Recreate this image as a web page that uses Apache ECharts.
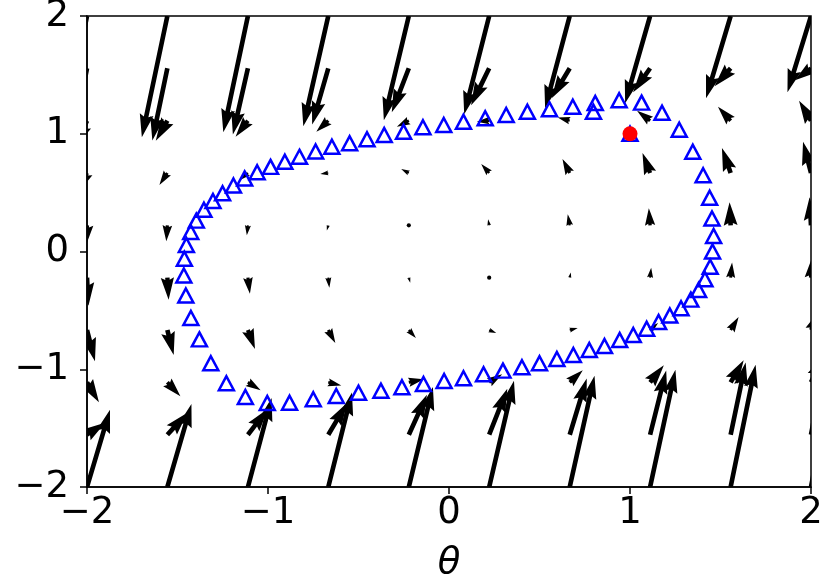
<!DOCTYPE html>
<html><head><meta charset="utf-8">
<script src="https://cdn.jsdelivr.net/npm/echarts@6/dist/echarts.min.js"></script>
<style>html,body{margin:0;padding:0;background:#fff}#c{width:822px;height:586px}</style>
</head><body><div id="c"></div>
<script>
// quiver grid (tail positions)
const thetaGrid = [-2, -1.556, -1.111, -0.667, -0.222, 0.222, 0.667, 1.111, 1.556, 2];
const wGrid = [2, 1.556, 1.111, 0.667, 0.222, -0.222, -0.667, -1.111, -1.556, -2];
// arrow displacement in data units (dtheta), one array per row of wGrid
const dThetaRows = [
  [-0.138,-0.141,-0.136,-0.138,-0.138,-0.138,-0.136,-0.138,-0.136,-0.130],
  [-0.083,-0.083,-0.083,-0.089,-0.094,-0.100,-0.100,-0.094,-0.089,-0.089],
  [-0.066,-0.064,-0.068,-0.066,-0.066,-0.068,-0.066,-0.072,-0.070,-0.066],
  [-0.044,-0.044,-0.044,-0.044,-0.042,-0.044,-0.040,-0.042,-0.048,-0.044],
  [-0.008,-0.006,-0.006,-0.008,0,-0.006,-0.011,-0.007,-0.006,-0.008],
  [0.008,0.007,0.011,0.006,0.008,0,0.006,0.006,0.008,0.008],
  [0.044,0.035,0.039,0.039,0.039,0.039,0.044,0.044,0.044,0.040],
  [0.066,0.072,0.070,0.072,0.083,0.072,0.072,0.076,0.072,0.072],
  [0.100,0.111,0.111,0.105,0.100,0.100,0.094,0.089,0.083,0.083],
  [0.127,0.133,0.131,0.131,0.133,0.137,0.137,0.140,0.138,0.138]
];
// arrow displacement in data units (dw)
const dWRows = [
  [-1.081,-1.030,-0.987,-0.936,-0.885,-0.834,-0.783,-0.740,-0.698,-0.647],
  [-0.664,-0.613,-0.562,-0.477,-0.374,-0.315,-0.255,-0.204,-0.153,-0.102],
  [-0.221,-0.170,-0.136,-0.094,-0.051,-0.009,0.026,0.085,0.119,0.170],
  [-0.153,-0.102,-0.060,-0.009,0.034,0.077,0.119,0.170,0.213,0.264],
  [-0.179,-0.136,-0.085,-0.043,0.000,0.051,0.094,0.145,0.196,0.238],
  [-0.238,-0.187,-0.136,-0.085,-0.043,0.000,0.043,0.085,0.128,0.179],
  [-0.264,-0.213,-0.162,-0.111,-0.068,-0.026,0.017,0.060,0.111,0.153],
  [-0.170,-0.119,-0.068,-0.026,0.026,0.068,0.102,0.145,0.187,0.230],
  [0.102,0.187,0.221,0.272,0.340,0.391,0.477,0.545,0.613,0.664],
  [0.655,0.704,0.755,0.803,0.849,0.902,0.945,0.996,1.038,1.089]
];
// trajectory markers
const trajTheta = [1.0,0.798,0.684,0.555,0.433,0.316,0.200,0.080,-0.029,-0.144,-0.251,-0.358,-0.453,-0.549,-0.647,-0.737,-0.826,-0.907,-0.986,-1.060,-1.129,-1.191,-1.251,-1.304,-1.354,-1.396,-1.427,-1.451,-1.462,-1.465,-1.454,-1.426,-1.379,-1.316,-1.230,-1.125,-1.004,-0.881,-0.750,-0.623,-0.500,-0.376,-0.260,-0.141,-0.027,0.080,0.191,0.298,0.403,0.500,0.596,0.687,0.775,0.859,0.943,1.018,1.092,1.158,1.220,1.282,1.336,1.379,1.414,1.443,1.456,1.462,1.453,1.440,1.404,1.347,1.272,1.177,1.064,0.940,0.808];
const trajW = [1.0,1.187,1.230,1.208,1.187,1.159,1.131,1.102,1.074,1.055,1.017,0.989,0.953,0.919,0.890,0.849,0.804,0.762,0.719,0.673,0.620,0.561,0.495,0.429,0.354,0.262,0.166,0.055,-0.062,-0.204,-0.374,-0.565,-0.746,-0.949,-1.119,-1.236,-1.287,-1.284,-1.255,-1.227,-1.199,-1.182,-1.153,-1.125,-1.100,-1.077,-1.043,-1.012,-0.983,-0.949,-0.913,-0.879,-0.837,-0.803,-0.752,-0.709,-0.656,-0.599,-0.544,-0.482,-0.409,-0.327,-0.236,-0.129,0.000,0.132,0.280,0.457,0.648,0.847,1.034,1.179,1.264,1.285,1.261];
const startPoint = [1, 1];
const xTickLabels = ['\u22122', '\u22121', '0', '1', '2'];
const yTickLabels = ['\u22122', '\u22121', '0', '1', '2'];

const quiverData = [];
wGrid.forEach((w, j) => thetaGrid.forEach((t, i) => {
  quiverData.push([t, w, dThetaRows[j][i], dWRows[j][i]]);
}));

const chart = echarts.init(document.getElementById('c'), null, {renderer: 'canvas'});
const GRID = {left: 87, right: 11, top: 16, bottom: 99};
const FONT = 'DejaVu Sans';

function renderArrow(params, api) {
  const t = api.value(0), w = api.value(1), dt = api.value(2), dw = api.value(3);
  const p0 = api.coord([t, w]);
  const p1 = api.coord([t + dt, w + dw]);
  const W = 0.0064 * params.coordSys.width;
  const dx = p1[0] - p0[0], dy = p1[1] - p0[1];
  const L = Math.hypot(dx, dy);
  const Lw = L / W;
  if (Lw < 1) {
    return {type: 'circle', shape: {cx: p0[0], cy: p0[1], r: W * 0.45}, style: {fill: '#000'}};
  }
  let xs, ys = [0.5, 0.5, 1.5, 0, -1.5, -0.5, -0.5];
  if (Lw < 5) {
    const s = Lw / 5;
    xs = [0, 0.5, 0, 5, 0, 0.5, 0].map(v => v * s);
    ys = ys.map(v => v * s);
  } else {
    xs = [0, Lw - 4.5, Lw - 5, Lw, Lw - 5, Lw - 4.5, 0];
  }
  const ux = dx / L, uy = dy / L, nx = -uy, ny = ux;
  const pts = xs.map((x, k) => [p0[0] + W * (x * ux + ys[k] * nx), p0[1] + W * (x * uy + ys[k] * ny)]);
  return {type: 'polygon', shape: {points: pts}, style: {fill: '#000'}};
}

const axisCommon = {
  type: 'value', min: -2, max: 2, interval: 1,
  axisLine: {show: true, onZero: false, lineStyle: {color: '#000', width: 1.5}},
  axisTick: {show: true, length: 7, lineStyle: {color: '#000', width: 1.5}},
  splitLine: {show: false},
  nameLocation: 'middle',
  nameTextStyle: {fontSize: 37, fontStyle: 'italic', fontFamily: FONT, color: '#000'}
};

chart.setOption({
  animation: false,
  backgroundColor: '#fff',
  grid: Object.assign({show: true, borderColor: '#000', borderWidth: 1.5, containLabel: false, outerBoundsMode: 'none'}, GRID),
  xAxis: Object.assign({}, axisCommon, {
    name: '\u03b8', nameGap: 58,
    axisLabel: {fontSize: 37, fontFamily: FONT, color: '#000', margin: 8,
      formatter: v => xTickLabels[Math.round(v) + 2]}
  }),
  yAxis: Object.assign({}, axisCommon, {
    name: 'w', nameGap: 62, nameRotate: 90,
    axisLabel: {fontSize: 37, fontFamily: FONT, color: '#000', margin: 18,
      formatter: v => yTickLabels[Math.round(v) + 2]}
  }),
  series: [
    {type: 'custom', renderItem: renderArrow, data: quiverData, clip: true, z: 1, silent: true,
     encode: {x: 0, y: 1}},
    {type: 'scatter', data: trajTheta.map((t, k) => [t, trajW[k]]), symbol: 'triangle', symbolSize: [15, 14],
     itemStyle: {color: 'rgba(0,0,0,0)', borderColor: '#0000ff', borderWidth: 2.5, opacity: 1}, z: 2, silent: true},
    {type: 'scatter', data: [startPoint], symbol: 'circle', symbolSize: 15,
     itemStyle: {color: '#ff0000', opacity: 1}, z: 3, silent: true}
  ]
});
</script></body></html>
